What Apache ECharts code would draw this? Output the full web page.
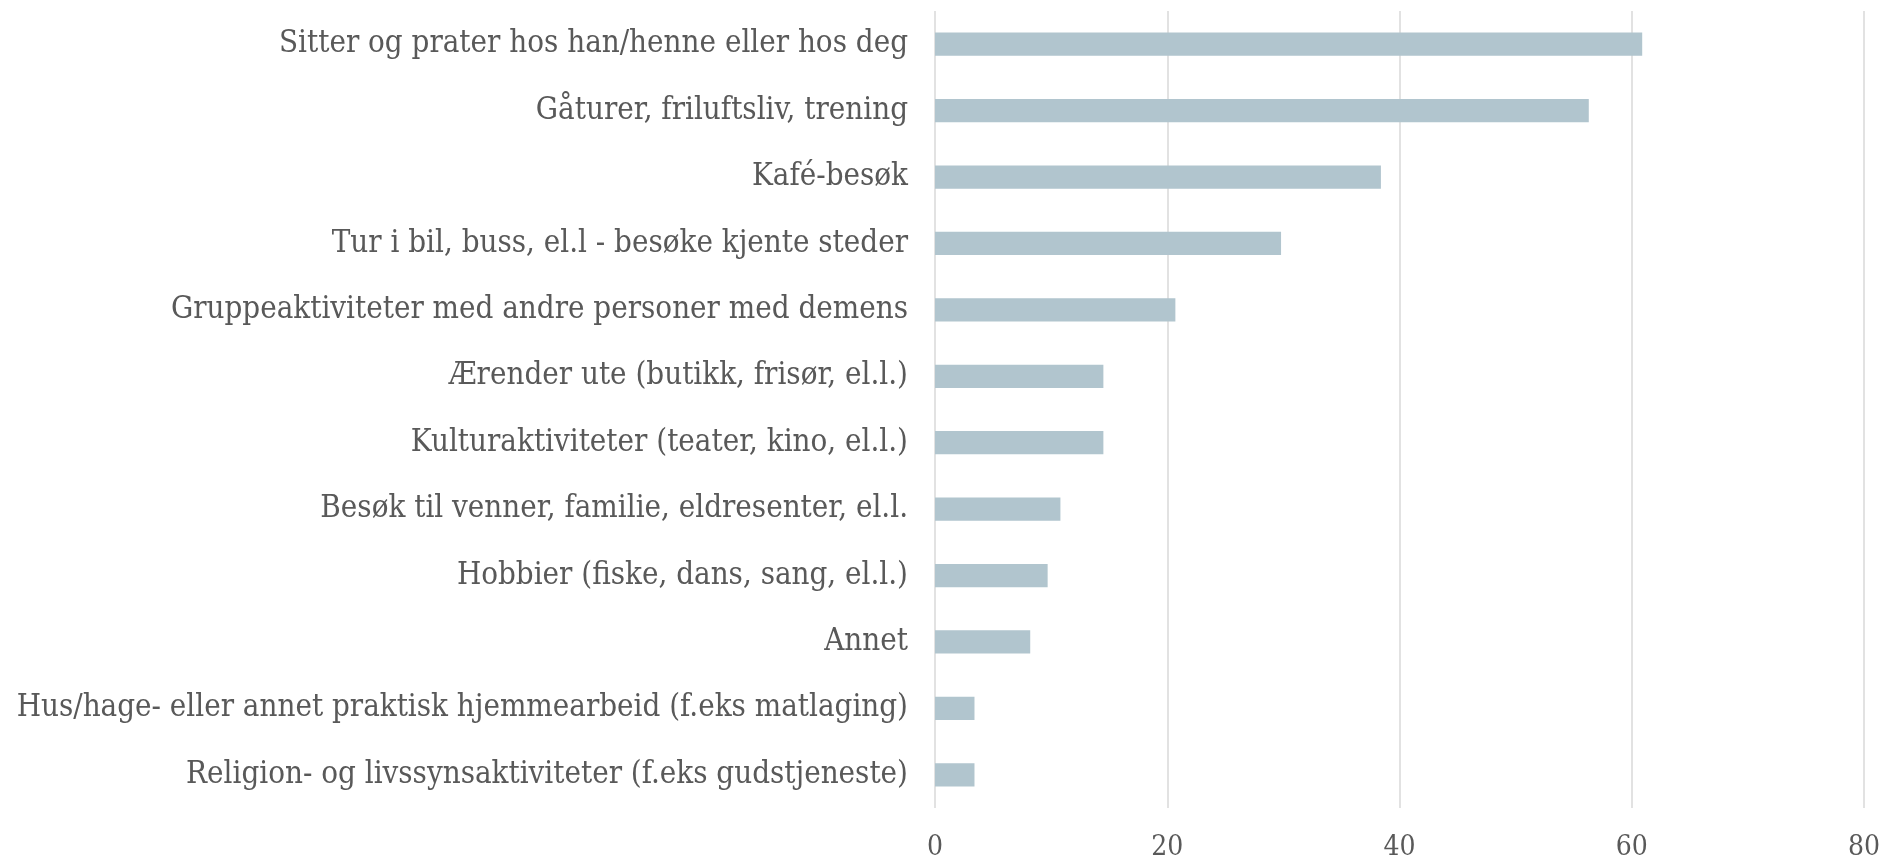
<!DOCTYPE html>
<html>
<head>
<meta charset="utf-8">
<script src="https://cdn.jsdelivr.net/npm/echarts@6/dist/echarts.min.js"></script>
<style>
  html, body { margin: 0; padding: 0; background: #fff; }
  #barEchart { width: 1885px; height: 863px; }
</style>
</head>
<body>
<div id="barEchart"></div>
<script>
// kategorier (nederst først, slik y-aksen tegner dem)
var categories = [
	'Religion- og livssynsaktiviteter (f.eks gudstjeneste)',
	'Hus/hage- eller annet praktisk hjemmearbeid (f.eks matlaging)',
	'Annet',
	'Hobbier (fiske, dans, sang, el.l.)',
	'Besøk til venner, familie, eldresenter, el.l.',
	'Kulturaktiviteter (teater, kino, el.l.)',
	'Ærender ute (butikk, frisør, el.l.)',
	'Gruppeaktiviteter med andre personer med demens',
	'Tur i bil, buss, el.l - besøke kjente steder',
	'Kafé-besøk',
	'Gåturer, friluftsliv, trening',
	'Sitter og prater hos han/henne eller hos deg'
];
var values = [3.4, 3.4, 8.2, 9.7, 10.8, 14.5, 14.5, 20.7, 29.8, 38.4, 56.3, 60.9];
var xTicks = [0, 20, 40, 60, 80];

var myChart = echarts.init(document.getElementById('barEchart'));

var labelFont = '"DejaVu Serif Condensed", "DejaVu Serif", serif';
var option = {
	animation: false,
	grid: {
		left: 935,
		right: 21,
		top: 11,
		bottom: 55
	},
	xAxis: {
		type: 'value',
		min: xTicks[0],
		max: xTicks[xTicks.length - 1],
		interval: 20,
		axisLine: { show: false },
		axisTick: { show: false },
		splitLine: { lineStyle: { color: '#d9d9d9', width: 1.5 } },
		axisLabel: {
			color: '#595959',
			fontFamily: labelFont,
			fontSize: 28,
			margin: 26
		}
	},
	yAxis: {
		type: 'category',
		data: categories,
		axisLine: { show: false },
		axisTick: { show: false },
		axisLabel: {
			color: '#595959',
			fontFamily: labelFont,
			fontSize: 31,
			margin: 27
		}
	},
	series: [{
		type: 'bar',
		data: values,
		barCategoryGap: '65%',
		itemStyle: { color: '#b1c5ce' }
	}]
};
myChart.setOption(option);
</script>
</body>
</html>
